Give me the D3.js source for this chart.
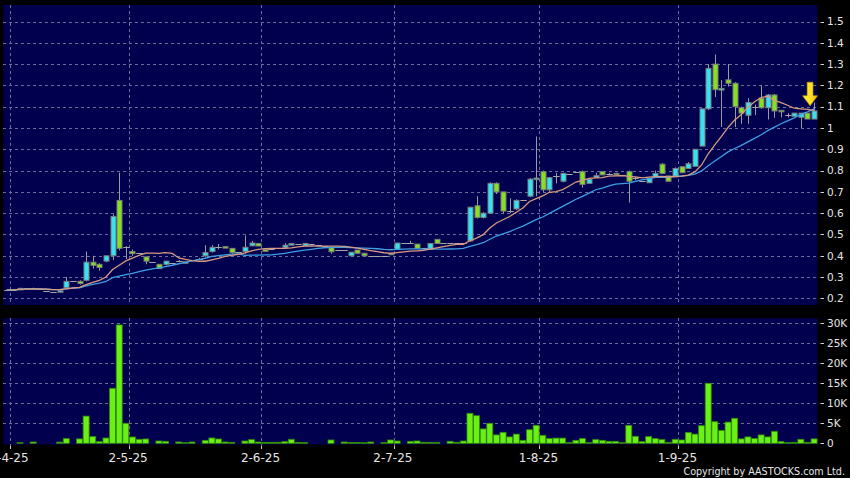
<!DOCTYPE html>
<html><head><meta charset="utf-8">
<script src="https://cdn.jsdelivr.net/npm/d3@7/dist/d3.min.js"></script>
<style>html,body{margin:0;padding:0;background:#000;}svg{display:block;}</style>
</head><body>
<svg id="chart" width="850" height="478"></svg>
<script>
// ---- DATA (one entry per trading day, oldest first) ----
const openP = [0.24,0.24,0.24,0.247,0.247,0.245,0.235,0.232,0.232,0.25,0.28,0.28,0.285,0.37,0.36,0.375,0.40,0.66,0.44,0.42,0.415,0.395,0.37,0.36,0.36,0.365,0.375,0.372,0.38,0.385,0.40,0.42,0.44,0.443,0.435,0.42,0.42,0.447,0.458,0.43,0.43,0.435,0.44,0.45,0.455,0.447,0.455,0.45,0.445,0.438,0.425,0.425,0.40,0.427,0.412,0.40,0.40,0.40,0.405,0.43,0.458,0.458,0.455,0.435,0.43,0.477,0.46,0.46,0.458,0.458,0.47,0.635,0.58,0.60,0.74,0.70,0.61,0.62,0.66,0.68,0.76,0.795,0.71,0.775,0.75,0.785,0.795,0.795,0.74,0.768,0.795,0.784,0.787,0.78,0.795,0.764,0.753,0.743,0.768,0.83,0.775,0.77,0.818,0.81,0.82,0.915,1.09,1.30,1.178,1.226,1.21,1.095,1.06,1.10,1.14,1.095,1.155,1.083,1.061,1.055,1.05,1.07,1.042];
const highP = [0.24,0.24,0.25,0.247,0.25,0.245,0.235,0.232,0.236,0.30,0.28,0.285,0.42,0.40,0.365,0.40,0.595,0.79,0.445,0.43,0.415,0.395,0.37,0.36,0.375,0.365,0.38,0.372,0.38,0.39,0.45,0.45,0.455,0.443,0.435,0.42,0.495,0.47,0.458,0.43,0.43,0.435,0.46,0.46,0.455,0.46,0.455,0.45,0.445,0.44,0.425,0.425,0.417,0.427,0.412,0.40,0.40,0.40,0.415,0.46,0.458,0.47,0.455,0.435,0.46,0.477,0.46,0.46,0.458,0.458,0.63,0.68,0.605,0.745,0.745,0.70,0.67,0.665,0.66,0.765,0.96,0.80,0.77,0.79,0.79,0.785,0.795,0.80,0.76,0.79,0.795,0.79,0.79,0.78,0.80,0.77,0.753,0.765,0.80,0.835,0.775,0.815,0.82,0.84,0.90,1.09,1.30,1.345,1.225,1.30,1.215,1.10,1.14,1.11,1.20,1.16,1.16,1.083,1.07,1.07,1.07,1.07,1.12];
const lowP = [0.24,0.24,0.24,0.247,0.245,0.245,0.235,0.232,0.232,0.245,0.28,0.265,0.28,0.34,0.33,0.37,0.38,0.425,0.385,0.40,0.415,0.36,0.37,0.34,0.355,0.365,0.37,0.365,0.38,0.385,0.395,0.415,0.43,0.437,0.41,0.42,0.41,0.445,0.446,0.421,0.43,0.435,0.435,0.45,0.455,0.447,0.455,0.45,0.445,0.41,0.425,0.425,0.40,0.412,0.40,0.40,0.40,0.40,0.405,0.43,0.458,0.458,0.435,0.435,0.43,0.458,0.46,0.46,0.458,0.458,0.465,0.575,0.575,0.60,0.69,0.60,0.60,0.615,0.66,0.675,0.68,0.70,0.70,0.74,0.745,0.785,0.795,0.72,0.74,0.768,0.78,0.784,0.78,0.78,0.65,0.755,0.753,0.743,0.768,0.787,0.75,0.77,0.79,0.81,0.82,0.915,1.085,1.145,1.005,1.195,1.005,1.02,1.02,1.06,1.09,1.04,1.048,1.05,1.05,1.055,1.00,1.042,1.042];
const closeP = [0.24,0.24,0.247,0.247,0.247,0.245,0.235,0.232,0.236,0.28,0.28,0.27,0.37,0.355,0.345,0.40,0.585,0.435,0.44,0.41,0.415,0.375,0.37,0.34,0.375,0.365,0.375,0.365,0.38,0.385,0.415,0.44,0.44,0.437,0.415,0.42,0.44,0.46,0.446,0.421,0.43,0.435,0.45,0.458,0.455,0.458,0.455,0.45,0.445,0.419,0.425,0.425,0.417,0.412,0.40,0.40,0.40,0.40,0.412,0.46,0.458,0.458,0.435,0.435,0.458,0.458,0.46,0.46,0.458,0.458,0.628,0.58,0.60,0.74,0.70,0.61,0.61,0.66,0.66,0.76,0.765,0.71,0.767,0.775,0.787,0.785,0.795,0.735,0.76,0.776,0.78,0.784,0.78,0.78,0.75,0.764,0.753,0.765,0.787,0.787,0.75,0.81,0.79,0.832,0.90,1.09,1.28,1.18,1.186,1.21,1.10,1.07,1.12,1.10,1.095,1.155,1.08,1.077,1.061,1.07,1.07,1.042,1.08];
const volume = [0,0,150,0,330,0,0,0,300,1170,0,1100,6800,1670,420,1330,13750,29600,5000,1580,1000,1080,0,580,500,0,330,150,330,0,750,1330,1080,330,250,0,580,920,330,250,250,250,420,1000,250,200,0,0,0,830,0,330,200,200,150,330,0,170,830,580,0,500,580,250,250,170,0,500,250,580,7500,6900,3600,5000,2100,2750,1600,2300,750,3400,4500,2000,1200,1300,1300,170,750,1200,170,920,750,500,500,170,4500,1750,420,1670,1170,920,250,1000,830,2700,2300,4400,15000,5400,3200,5300,6250,1100,1600,1200,2100,1600,3000,420,170,250,1000,250,1100];

// x-axis: index of the first trading day of each month, and its label
const monthStartIdx = [1, 19, 39, 59, 81, 102];
const monthLabels = ["2-4-25", "2-5-25", "2-6-25", "2-7-25", "1-8-25", "1-9-25"];
const priceTicks = [0.2,0.3,0.4,0.5,0.6,0.7,0.8,0.9,1.0,1.1,1.2,1.3,1.4,1.5];
const priceTickLabels = ["0.2","0.3","0.4","0.5","0.6","0.7","0.8","0.9","1","1.1","1.2","1.3","1.4","1.5"];
const volTicks = [0,5000,10000,15000,20000,25000,30000];
const volTickLabels = ["0","5K","10K","15K","20K","25K","30K"];
const maPeriods = [10, 20];

// ---- DRAWING ----
const N = closeP.length;
const svg = d3.select("#chart");
const font = "DejaVu Sans, Verdana, sans-serif";

const L = 3.4, R = 817.4;
const mainTop = 5, mainBot = 305, volTop = 318.3, volBot = 444.5;

const x = d3.scaleBand().domain(d3.range(N)).range([L, R]).padding(0);
const bw = x.bandwidth();
const cx = i => x(i) + bw / 2;
const yP = d3.scaleLinear().domain([0.169, 1.5775]).range([mainBot, mainTop]);
const yV = d3.scaleLinear().domain([0, 30000]).range([443.3, 323.3]);

svg.append("rect").attr("width", 850).attr("height", 478).attr("fill", "#000");
svg.append("rect").attr("x", L).attr("y", mainTop).attr("width", R - L).attr("height", mainBot - mainTop).attr("fill", "#00004f");
svg.append("rect").attr("x", L).attr("y", volTop).attr("width", R - L).attr("height", volBot - volTop).attr("fill", "#00004f");

const gridCol = "#6c6c9c";
const grid = svg.append("g").attr("stroke", gridCol).attr("stroke-width", 1).attr("stroke-dasharray", "3,3").attr("shape-rendering", "crispEdges");
priceTicks.forEach(t => grid.append("line").attr("x1", L).attr("x2", R).attr("y1", Math.round(yP(t)) + 0.5).attr("y2", Math.round(yP(t)) + 0.5));
volTicks.slice(1).forEach(t => grid.append("line").attr("x1", L).attr("x2", R).attr("y1", Math.round(yV(t)) + 0.5).attr("y2", Math.round(yV(t)) + 0.5));
monthStartIdx.forEach(i => {
  const gx = Math.round(x(i)) + 0.5;
  grid.append("line").attr("x1", gx).attr("x2", gx).attr("y1", mainTop).attr("y2", mainBot);
  grid.append("line").attr("x1", gx).attr("x2", gx).attr("y1", volTop).attr("y2", volBot);
});

// candles
const cg = svg.append("g");
d3.range(N).forEach(i => {
  const o = openP[i], c = closeP[i], h = highP[i], l = lowP[i];
  const xc = Math.round(cx(i)) + 0.5;
  if (h > l) cg.append("line").attr("x1", xc).attr("x2", xc).attr("y1", yP(h)).attr("y2", yP(l)).attr("stroke", "#9c9c9c").attr("stroke-width", 1);
  if (o === c) {
    cg.append("line").attr("x1", xc - 3.2).attr("x2", xc + 3.2).attr("y1", Math.round(yP(c)) + 0.5).attr("y2", Math.round(yP(c)) + 0.5)
      .attr("stroke", "#a8a8a8").attr("stroke-width", 1);
  } else {
    const top = yP(Math.max(o, c)), bot = yP(Math.min(o, c));
    cg.append("rect").attr("x", xc - 2.5).attr("y", top).attr("width", 5).attr("height", Math.max(1.5, bot - top))
      .attr("fill", c > o ? "#35e2f2" : "#84e020").attr("stroke", "#7c7c7c").attr("stroke-width", 1);
  }
});

// moving averages
function movingAvg(arr, n) { return arr.map((_, i) => d3.mean(arr.slice(Math.max(0, i - n + 1), i + 1))); }
const maColors = ["#d99a80", "#3e9fe4"];
[1, 0].forEach(k => {
  const ma = movingAvg(closeP, maPeriods[k]);
  svg.append("path").datum(ma).attr("fill", "none").attr("stroke", maColors[k]).attr("stroke-width", 1.3)
    .attr("d", d3.line().x((d, i) => cx(i)).y(d => yP(d)));
});

// volume bars
const vg = svg.append("g");
d3.range(N).forEach(i => {
  const v = volume[i];
  if (v <= 0) return;
  vg.append("rect").attr("x", cx(i) - 3).attr("width", 6).attr("y", yV(v)).attr("height", yV(0) - yV(v))
    .attr("fill", "#6af014").attr("stroke", "#2f8a06").attr("stroke-width", 0.8);
});

// arrow annotation above the latest candle
const defs = svg.append("defs");
const grad = defs.append("linearGradient").attr("id", "arrowGrad").attr("x1", "0").attr("x2", "1").attr("y1", "0").attr("y2", "0");
grad.append("stop").attr("offset", "0").attr("stop-color", "#fff04a");
grad.append("stop").attr("offset", "0.6").attr("stop-color", "#ffdc1e");
grad.append("stop").attr("offset", "1").attr("stop-color", "#f0b000");
const ax = cx(N - 1) - 4, tip = yP(highP[N - 1]) + 3.3;
svg.append("path")
  .attr("d", `M${ax - 2.9},${tip - 23.5} L${ax + 2.9},${tip - 23.5} L${ax + 2.9},${tip - 10} L${ax + 7.5},${tip - 10} L${ax},${tip} L${ax - 7.5},${tip - 10} L${ax - 2.9},${tip - 10} Z`)
  .attr("fill", "url(#arrowGrad)").attr("stroke", "#d49a00").attr("stroke-width", 0.6);

// right axes
const axCol = "#e6e6e6";
const ra = svg.append("g").attr("font-family", font).attr("font-size", "10.5px").attr("fill", axCol);
priceTicks.forEach((t, j) => {
  const y = yP(t);
  ra.append("line").attr("x1", 820.5).attr("x2", 824).attr("y1", Math.round(y) + 0.5).attr("y2", Math.round(y) + 0.5).attr("stroke", "#cfcfcf");
  ra.append("text").attr("x", 827).attr("y", y).attr("dy", "0.36em").text(priceTickLabels[j]);
});
volTicks.forEach((t, j) => {
  const y = yV(t);
  ra.append("line").attr("x1", 820.5).attr("x2", 824).attr("y1", Math.round(y) + 0.5).attr("y2", Math.round(y) + 0.5).attr("stroke", "#cfcfcf");
  ra.append("text").attr("x", 827).attr("y", y).attr("dy", "0.36em").text(volTickLabels[j]);
});

// bottom axis
const ba = svg.append("g").attr("font-family", font).attr("font-size", "12px").attr("fill", axCol).attr("text-anchor", "middle");
monthStartIdx.forEach((i, j) => {
  const tx = Math.round(x(i)) + 0.5;
  ba.append("line").attr("x1", tx).attr("x2", tx).attr("y1", 445.5).attr("y2", 449).attr("stroke", "#cfcfcf");
  ba.append("text").attr("x", x(i) - 1).attr("y", 462).text(monthLabels[j]);
});

svg.append("text").attr("x", 845).attr("y", 474.5).attr("text-anchor", "end").attr("font-family", font)
  .attr("font-size", "9.6px").attr("fill", axCol).text("Copyright by AASTOCKS.com Ltd.");
</script>
</body></html>
